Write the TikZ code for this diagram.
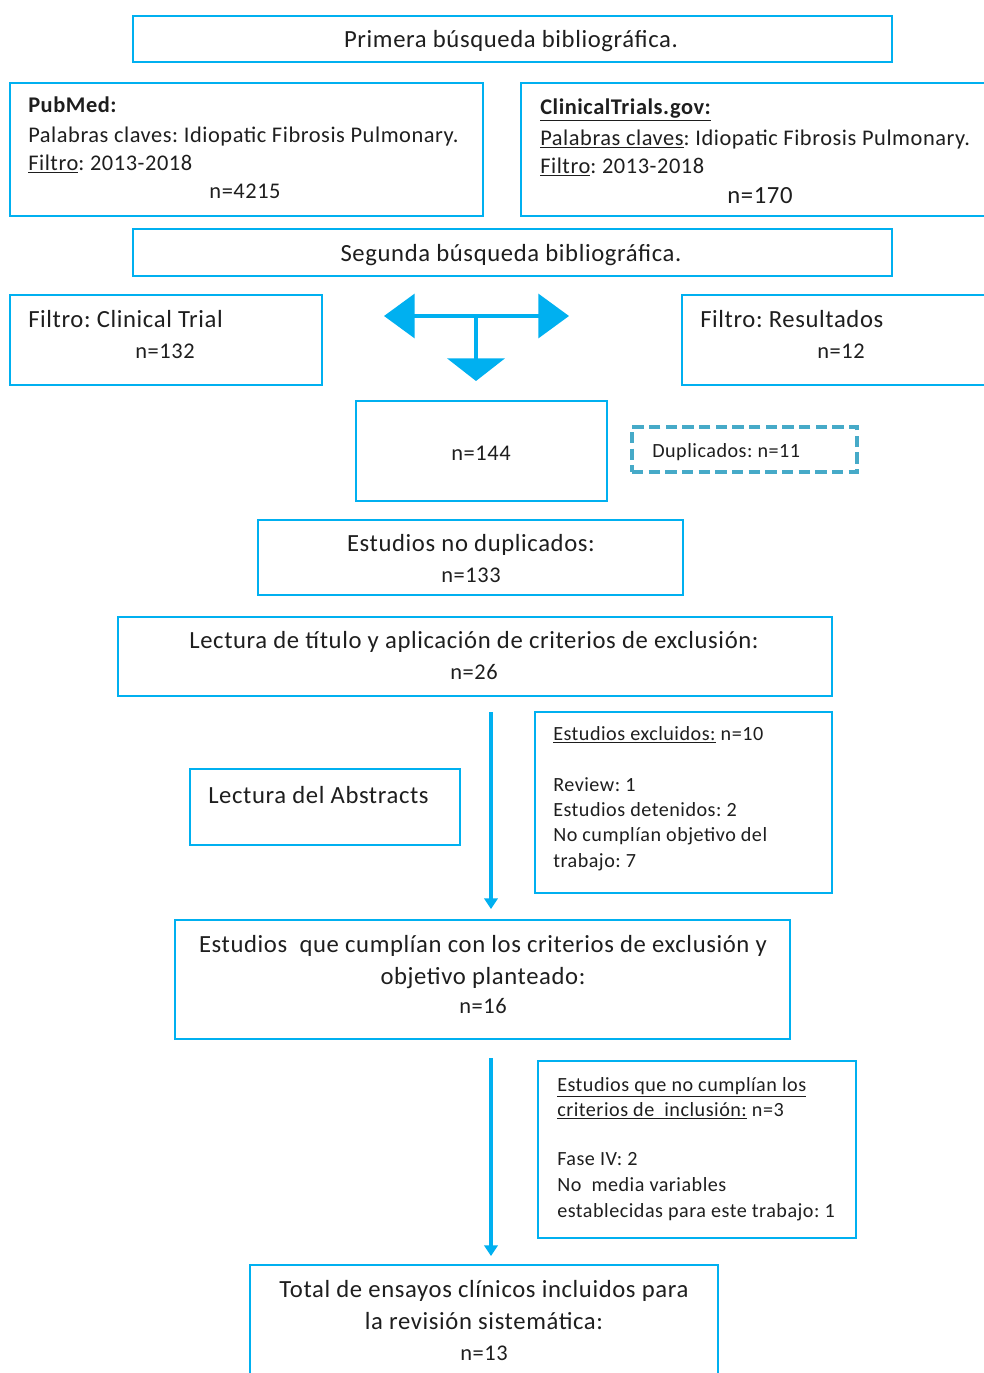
\documentclass[tikz,border=0pt]{standalone}
\usepackage{fontspec}
\setmainfont{Carlito}[LetterSpace=2.5]
\usetikzlibrary{fit,arrows.meta}
\frenchspacing
\definecolor{bx}{RGB}{0,176,240}
\definecolor{dsh}{RGB}{70,170,200}
\definecolor{tc}{RGB}{30,30,30}
\definecolor{arr}{RGB}{0,176,240}
\newcommand{\bigf}{\fontsize{18.5pt}{20pt}\selectfont}
\newcommand{\medf}{\fontsize{16.8pt}{18pt}\selectfont}
\newcommand{\smf}{\fontsize{15.1pt}{16pt}\selectfont}
\begin{document}
\begin{tikzpicture}[x=0.75pt,y=-0.75pt,
  box/.style={draw=bx,line width=1.2pt,inner sep=0pt},
  dbox/.style={draw=dsh,line width=2.4pt,dash pattern=on 8.5pt off 4pt,inner sep=0pt},
  tl/.style={inner sep=0pt,text=tc,anchor=mid west},
  tm/.style={inner sep=0pt,text=tc,anchor=mid},
  flow/.style={draw=arr,line width=3pt,-{Triangle[length=8pt,width=10pt]}}]
\clip (0,0) rectangle (984,1373);
\fill[white] (0,0) rectangle (984,1373);
% boxes
\node[box,fit={(133,16)(892,62)}] (primera) {};
\node[box,fit={(10,83)(483,216)}] (pubmed) {};
\node[box,fit={(521,83)(1000,216)}] (ctgov) {};
\node[box,fit={(133,229)(892,276)}] (segunda) {};
\node[box,fit={(10,295)(322,385)}] (fct) {};
\node[box,fit={(682,295)(1000,385)}] (fres) {};
\node[box,fit={(356,401)(607,501)}] (n144) {};
\node[dbox,fit={(632,427)(857,472)}] (dup) {};
\node[box,fit={(258,520)(683,595)}] (nodup) {};
\node[box,fit={(118,617)(832,696)}] (lectit) {};
\node[box,fit={(190,769)(460,845)}] (abst) {};
\node[box,fit={(535,712)(832,893)}] (excl) {};
\node[box,fit={(175,920)(790,1039)}] (cumpl) {};
\node[box,fit={(538,1061)(856,1238)}] (nocumpl) {};
\node[box,fit={(250,1265)(718,1400)}] (total) {};
% texts
\begin{scope}[yshift=-3pt]
\node[tm,font=\bigf] (t1) at (511,40) {Primera búsqueda bibliográfica.};
\node[tl,font=\medf] (p1) at (28,105) {\textbf{PubMed:}};
\node[tl,font=\medf] (p2) at (28,135) {Palabras claves: Idiopatic Fibrosis Pulmonary.};
\node[tl,font=\medf] (p3) at (28,163) {\underline{Filtro}: 2013-2018};
\node[tm,font=\medf] (p4) at (245,191) {n=4215};
\node[tl,font=\medf] (c1) at (540,107) {\textbf{\underline{ClinicalTrials.gov:}}};
\node[tl,font=\medf] (c2) at (540,138) {\underline{Palabras claves}: Idiopatic Fibrosis Pulmonary.};
\node[tl,font=\medf] (c3) at (540,166) {\underline{Filtro}: 2013-2018};
\node[tm,font=\bigf] (c4) at (760,196) {n=170};
\node[tm,font=\bigf] (t2) at (511,254) {Segunda búsqueda bibliográfica.};
\node[tl,font=\bigf] (f1) at (28,320) {Filtro: Clinical Trial};
\node[tm,font=\medf] (f2) at (165,351) {n=132};
\node[tl,font=\bigf] (r1) at (700,320) {Filtro: Resultados};
\node[tm,font=\medf] (r2) at (841,351) {n=12};
\node[tm,font=\medf] (n1) at (481,453) {n=144};
\node[tl,font=\smf] (d1) at (652,450) {Duplicados: n=11};
\node[tm,font=\bigf] (e1) at (471,544) {Estudios no duplicados:};
\node[tm,font=\medf] (e2) at (471,575) {n=133};
\node[tm,font=\bigf] (l1) at (474,641) {Lectura de título y aplicación de criterios de exclusión:};
\node[tm,font=\medf] (l2) at (474,672) {n=26};
\node[tl,font=\bigf] (a1) at (208,796) {Lectura del Abstracts};
\node[tl,font=\smf] (x1) at (553,733) {\underline{Estudios excluidos:}~n=10};
\node[tl,font=\smf] (x2) at (553,784) {Review: 1};
\node[tl,font=\smf] (x3) at (553,809) {Estudios detenidos: 2};
\node[tl,font=\smf] (x4) at (553,834) {No cumplían objetivo del};
\node[tl,font=\smf] (x5) at (553,860) {trabajo: 7};
\node[tm,font=\bigf] (s1) at (483,945) {Estudios~ que cumplían con los criterios de exclusión y};
\node[tm,font=\bigf] (s2) at (483,977) {objetivo planteado:};
\node[tm,font=\medf] (s3) at (483,1006) {n=16};
\node[tl,font=\smf] (i1) at (557,1084) {\underline{Estudios que no cumplían los}};
\node[tl,font=\smf] (i2) at (557,1109) {\underline{criterios de~ inclusión:}~n=3};
\node[tl,font=\smf] (i3) at (557,1158) {Fase IV: 2};
\node[tl,font=\smf] (i4) at (557,1184) {No~ media variables};
\node[tl,font=\smf] (i5) at (557,1210) {establecidas para este trabajo: 1};
\node[tm,font=\bigf] (o1) at (484,1290) {Total de ensayos clínicos incluidos para};
\node[tm,font=\bigf] (o2) at (484,1322) {la revisión sistemática:};
\node[tm,font=\medf] (o3) at (484,1353) {n=13};
\end{scope}
% arrows
\coordinate (tL) at (384,316);
\coordinate (tR) at (569,316);
\coordinate (tM) at (476,316);
\coordinate (tB) at (476,381);
\draw[draw=arr,line width=2.6pt,{Triangle[length=23pt,width=33pt]}-{Triangle[length=23pt,width=33pt]}] (tL) -- (tR);
\draw[draw=arr,line width=2.6pt,-{Triangle[length=17pt,width=43pt]}] (tM) -- (tB);
\coordinate (v1) at (491,712);
\coordinate (v2) at (491,909);
\coordinate (w1) at (491,1058);
\coordinate (w2) at (491,1256);
\draw[flow] (v1) -- (v2);
\draw[flow] (w1) -- (w2);
\end{tikzpicture}
\end{document}
